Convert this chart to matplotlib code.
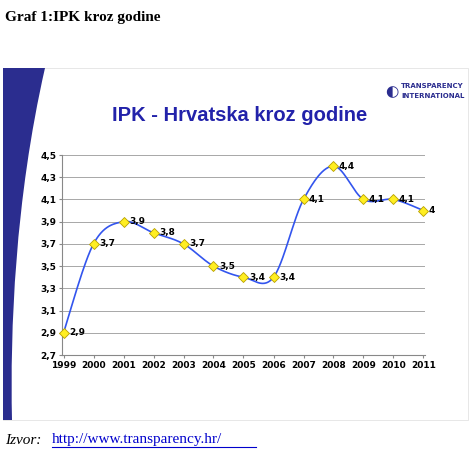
import numpy as np
import matplotlib
matplotlib.use("Agg")
import matplotlib.pyplot as plt
from matplotlib.path import Path
from matplotlib.patches import PathPatch, Rectangle

years = [1999, 2000, 2001, 2002, 2003, 2004, 2005, 2006, 2007, 2008, 2009, 2010, 2011]
values = [2.9, 3.7, 3.9, 3.8, 3.7, 3.5, 3.4, 3.4, 4.1, 4.4, 4.1, 4.1, 4.0]
labels = ["2,9", "3,7", "3,9", "3,8", "3,7", "3,5", "3,4", "3,4", "4,1", "4,4", "4,1", "4,1", "4"]
yticks = [2.7, 2.9, 3.1, 3.3, 3.5, 3.7, 3.9, 4.1, 4.3, 4.5]

W, H = 474, 458
fig = plt.figure(figsize=(W/100, H/100), dpi=100)
fig.patch.set_facecolor("white")

def fx(px): return px / W
def fy(py): return 1 - py / H

fig.text(fx(5), fy(17), "Graf 1:IPK kroz godine", family="Liberation Serif", weight="bold", fontsize=11, va="center")

# slide border
fig.patches.append(Rectangle((fx(3), fy(420)), fx(465), (420-68)/H, transform=fig.transFigure,
                             facecolor="white", edgecolor="#dddddd", lw=0.5, zorder=-2))
# blue band
verts = [(fx(3), fy(68)), (fx(45), fy(68)), (fx(15), fy(200)), (fx(10), fy(330)), (fx(12), fy(420)),
         (fx(3), fy(420)), (fx(3), fy(68))]
codes = [Path.MOVETO, Path.LINETO, Path.CURVE4, Path.CURVE4, Path.CURVE4, Path.LINETO, Path.CLOSEPOLY]
fig.patches.append(PathPatch(Path(verts, codes), transform=fig.transFigure, facecolor="#2b2d8f",
                             edgecolor="none", zorder=-1))

# logo
fig.text(fx(392), fy(92), "\u25D0", color="#2b2d8f", fontsize=11, va="center", ha="center")
fig.text(fx(401), fy(86), "TRANSPARENCY", color="#2b2d8f", fontsize=5, weight="bold", va="center")
fig.text(fx(401), fy(96), "INTERNATIONAL", color="#2b2d8f", fontsize=5, weight="bold", va="center")

fig.text(fx(240), fy(116), "IPK - Hrvatska kroz godine", color="#2222aa", fontsize=14.5, weight="bold",
         ha="center", va="center", family="Liberation Sans")

ax = fig.add_axes([fx(62), fy(355), (425-62)/W, (355-155)/H], zorder=5)
ax.set_facecolor("none")
x = np.arange(len(years))
# Catmull-Rom smooth curve through points
xs, ys = [], []
P = np.column_stack([x, values]).astype(float)
Pp = np.vstack([P[0], P, P[-1]])
for i in range(1, len(Pp)-2):
    p0, p1, p2, p3 = Pp[i-1], Pp[i], Pp[i+1], Pp[i+2]
    t = np.linspace(0, 1, 30)[:, None]
    c = 0.5*((2*p1) + (-p0+p2)*t + (2*p0-5*p1+4*p2-p3)*t**2 + (-p0+3*p1-3*p2+p3)*t**3)
    xs.extend(c[:, 0]); ys.extend(c[:, 1])
ax.plot(xs, ys, color="#3355ee", lw=1.2, zorder=2, clip_on=False)
ax.plot(x, values, ls="none", marker="D", ms=5, mfc="#ffee22", mec="#b8a000", mew=0.6, zorder=3, clip_on=False)
for xi, v, l in zip(x, values, labels):
    ax.text(xi+0.18, v, l, fontsize=6.5, weight="bold", va="center", ha="left", zorder=4)

ax.set_xlim(-0.05, len(years)-1+0.05)
ax.set_ylim(2.7, 4.5)
ax.set_yticks(yticks)
ax.set_yticklabels([f"{t:.1f}".replace(".", ",") for t in yticks], fontsize=6.5, weight="bold")
ax.set_xticks(x)
ax.set_xticklabels([str(y) for y in years], fontsize=6.5, weight="bold")
ax.grid(axis="y", color="#999999", lw=0.6)
ax.set_axisbelow(True)
for s in ["top", "right"]:
    ax.spines[s].set_visible(False)
ax.spines["left"].set_color("#888888")
ax.spines["bottom"].set_color("#888888")
ax.tick_params(length=2, color="#888888", pad=2)

fig.text(fx(5), fy(440), "Izvor: ", family="Liberation Serif", style="italic", fontsize=11, va="center")
fig.text(fx(52), fy(440), "http://www.transparency.hr/", family="Liberation Serif", fontsize=11,
         va="center", color="#0000cc")
fig.add_artist(plt.Line2D([fx(52), fx(256)], [fy(447), fy(447)], color="#0000cc", lw=0.8))

fig.savefig("out.png", dpi=100)
